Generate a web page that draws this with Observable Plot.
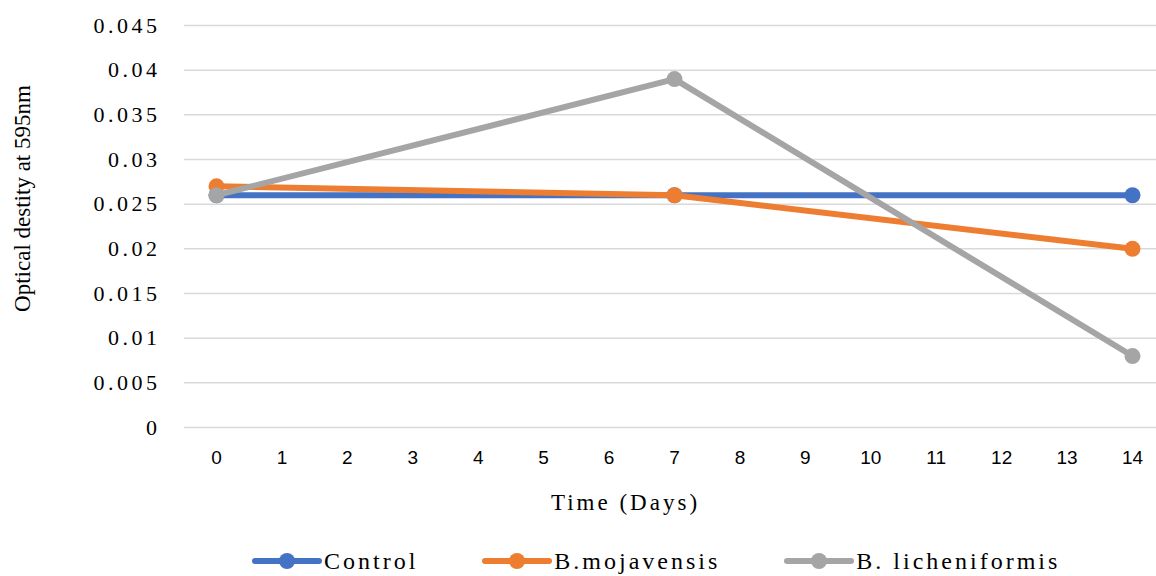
<!DOCTYPE html>
<html><head><meta charset="utf-8">
<script src="https://cdn.jsdelivr.net/npm/d3@7"></script>
<script src="https://cdn.jsdelivr.net/npm/@observablehq/plot@0.6"></script>
<style>
body{margin:0;background:#fff;}
#chart{width:1156px;height:576px;position:relative;overflow:hidden;background:#fff}
.legend{position:absolute;left:252px;top:543px;height:36px;display:flex;align-items:center;font-family:"Liberation Serif","DejaVu Serif",serif;font-size:24px;letter-spacing:3px;color:#000;white-space:nowrap}
.item{display:flex;align-items:center;margin-right:64px}
.item svg{margin-right:2px}
</style></head>
<body><div id="chart"></div>
<script>
const days = [0, 7, 14];
const seriesNames = ["Control", "B.mojavensis", "B. licheniformis"];
const seriesColors = ["#4472C4", "#ED7D31", "#A5A5A5"];
const control = [0.026, 0.026, 0.026];
const mojavensis = [0.027, 0.026, 0.020];
const licheniformis = [0.026, 0.039, 0.008];
const xTicks = [0,1,2,3,4,5,6,7,8,9,10,11,12,13,14];
const yTicks = [0,0.005,0.01,0.015,0.02,0.025,0.03,0.035,0.04,0.045];
const yTickLabels = ["0","0.005","0.01","0.015","0.02","0.025","0.03","0.035","0.04","0.045"];
const xTitle = "Time (Days)";
const yTitle = "Optical destity at 595nm";
const serifFont = "'Liberation Serif', 'DejaVu Serif', serif";

const seriesValues = [control, mojavensis, licheniformis];
const rows = seriesNames.map((s, k) => days.map((d, i) => ({series: s, day: d, value: seriesValues[k][i]})));

const seriesMarks = rows.flatMap(r => [
  Plot.line(r, {x: "day", y: "value", stroke: "series", strokeWidth: 6, strokeLinecap: "round", strokeLinejoin: "round"}),
  Plot.dot(r, {x: "day", y: "value", fill: "series", r: 8, stroke: null})
]);

const plot = Plot.plot({
  width: 1156, height: 536,
  marginTop: 25, marginBottom: 109, marginLeft: 184, marginRight: 0,
  style: {background: "transparent"},
  x: {domain: [-0.5, 14.5], range: [183.3, 1164.7]},
  y: {domain: [0, 0.045]},
  color: {domain: seriesNames, range: seriesColors},
  marks: [
    Plot.gridY(yTicks, {stroke: "#d9d9d9", strokeOpacity: 1, strokeWidth: 1.5}),
    Plot.axisY(yTicks, {tickSize: 0, tickPadding: 24, label: null, tickFormat: (d, i) => yTickLabels[i]}),
    Plot.axisX(xTicks, {tickSize: 0, tickPadding: 23, label: null, tickFormat: d => String(d)}),
    ...seriesMarks,
    Plot.text([yTitle], {frameAnchor: "left", textAnchor: "middle", rotate: -90, dx: -162, dy: -28, text: d => d, fontSize: 23, fill: "#000"}),
    Plot.text([xTitle], {frameAnchor: "bottom", textAnchor: "middle", dx: -45, dy: 82, text: d => d, fontSize: 23, fill: "#000"})
  ]
});
const svg = d3.select(plot);
svg.selectAll('g[aria-label="y-axis tick label"]').attr("font-family", serifFont).attr("font-size", 22).attr("letter-spacing", "3.5px").attr("fill", "#000");
svg.selectAll('g[aria-label="x-axis tick label"]').attr("font-family", "'Liberation Sans', sans-serif").attr("font-size", 19).attr("fill", "#000");
svg.selectAll('g[aria-label="text"]').attr("font-family", serifFont);
svg.selectAll('text').filter(function(){ return this.textContent === xTitle; }).attr("letter-spacing", "3px");
document.getElementById("chart").appendChild(plot);

const legend = d3.select("#chart").append("div").attr("class", "legend");
seriesNames.forEach((s, i) => {
  const item = legend.append("div").attr("class", "item");
  const sw = item.append("svg").attr("width", 70).attr("height", 20);
  sw.append("line").attr("x1", 3).attr("x2", 67).attr("y1", 10).attr("y2", 10).attr("stroke", seriesColors[i]).attr("stroke-width", 6).attr("stroke-linecap", "round");
  sw.append("circle").attr("cx", 35).attr("cy", 10).attr("r", 8).attr("fill", seriesColors[i]);
  item.append("span").text(s);
});
</script></body></html>
